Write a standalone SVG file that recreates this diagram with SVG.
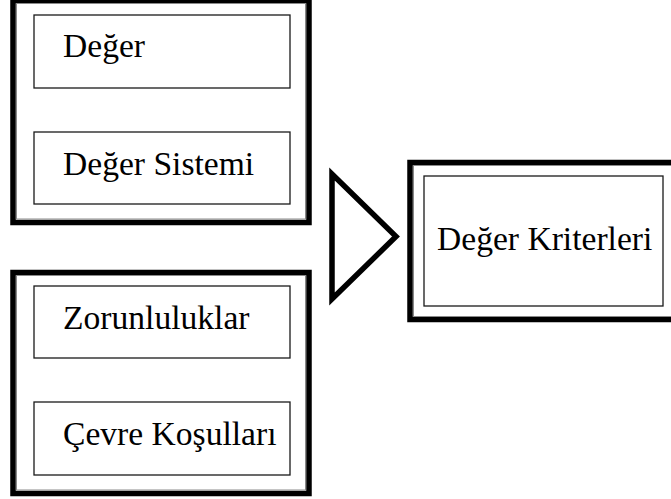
<svg xmlns="http://www.w3.org/2000/svg" width="671" height="499" viewBox="0 0 671 499">
  <style>
    .outer { fill: #ffffff; stroke: #000000; stroke-width: 5.5; }
    .outer-in { fill: none; stroke: #8a8a8a; stroke-width: 1; }
    .inner { fill: #ffffff; stroke: #1a1a1a; stroke-width: 1.3; }
    .label { font-family: "Liberation Serif", "Times New Roman", serif; font-size: 33.6px; fill: #000000; }
    .arrow { fill: #ffffff; stroke: #000000; stroke-width: 5.5; stroke-linejoin: miter; }
  </style>
  <rect width="671" height="499" fill="#ffffff"/>

  <g id="group-deger">
    <rect class="outer" x="13" y="0.5" width="296" height="222"/>
    <rect class="outer-in" x="16.5" y="3.5" width="289" height="215.5"/>
    <g id="node-deger">
      <rect class="inner" x="34" y="15" width="256" height="73"/>
      <text class="label" x="63" y="57">Değer</text>
    </g>
    <g id="node-deger-sistemi">
      <rect class="inner" x="34" y="132" width="256" height="72"/>
      <text class="label" x="63" y="175">Değer Sistemi</text>
    </g>
  </g>

  <g id="group-kosullar">
    <rect class="outer" x="13" y="272.5" width="296" height="221"/>
    <rect class="outer-in" x="16.5" y="275.5" width="289" height="214.5"/>
    <g id="node-zorunluluklar">
      <rect class="inner" x="34" y="286" width="256" height="72"/>
      <text class="label" x="63" y="329">Zorunluluklar</text>
    </g>
    <g id="node-cevre-kosullari">
      <rect class="inner" x="34" y="402" width="256" height="73"/>
      <text class="label" x="63" y="445">Çevre Koşulları</text>
    </g>
  </g>

  <g id="connectors">
    <polygon class="arrow" points="332,174 332,299 396,236.5"/>
  </g>

  <g id="group-kriterler">
    <rect class="outer" x="410" y="162.5" width="270" height="157"/>
    <rect class="outer-in" x="413.5" y="165.5" width="270" height="151"/>
    <g id="node-deger-kriterleri">
      <rect class="inner" x="424" y="176" width="239" height="130"/>
      <text class="label" x="437" y="250">Değer Kriterleri</text>
    </g>
  </g>
</svg>
